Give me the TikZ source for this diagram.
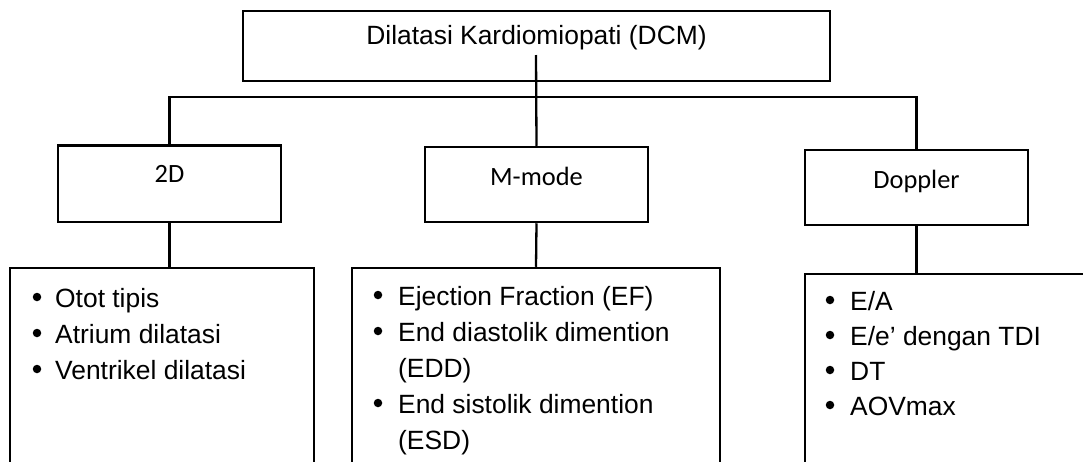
\documentclass[tikz,border=0pt]{standalone}
\usepackage{fontspec}
\setmainfont{Liberation Sans}
\newfontfamily\calfont{Carlito}
\begin{document}
\begin{tikzpicture}[x=1pt,y=-1pt,
  box/.style={draw=black,line width=2.5pt,rectangle,inner sep=0pt,fill=none},
  conn/.style={draw=black,line width=2.3pt},
  title/.style={anchor=base,inner sep=0pt,font=\fontsize{26.4}{36}\selectfont},
  head/.style={anchor=base,inner sep=0pt,font=\calfont\fontsize{26.4}{36}\selectfont},
  item/.style={anchor=base west,inner sep=0pt,font=\fontsize{26.4}{36}\selectfont},
  dot/.style={circle,fill=black,inner sep=0pt,minimum size=8.5pt}]
\useasboundingbox (0,0) rectangle (1083,461);
\clip (0,0) rectangle (1083,461);
% boxes
\node[box,minimum width=587pt,minimum height=70pt] (top) at (536.5,46) {};
\node[box,minimum width=223pt,minimum height=76.5pt] (twod) at (169.5,183.75) {};
\node[box,minimum width=223pt,minimum height=75pt] (mmode) at (536.5,184.5) {};
\node[box,minimum width=223pt,minimum height=75pt] (dop) at (916.5,187.5) {};
\node[box,minimum width=304pt,minimum height=212pt] (lst1) at (162,374) {};
\node[box,minimum width=368pt,minimum height=212pt] (lst2) at (536,374) {};
\node[box,minimum width=295pt,minimum height=206pt] (lst3) at (952.5,377) {};
% texts
\node[title] (ttop) at (536.5,44) {Dilatasi Kardiomiopati (DCM)};
\node[head] (t2d) at (169.5,182) {2D};
\node[head] (tmm) at (536.5,185) {M-mode};
\node[head] (tdop) at (916.5,188) {Doppler};
% list 1
\node[dot] (b11) at (37,297) {};
\node[item] (i11) at (55,307) {Otot tipis};
\node[dot] (b12) at (37,333) {};
\node[item] (i12) at (55,343) {Atrium dilatasi};
\node[dot] (b13) at (37,369) {};
\node[item] (i13) at (55,379) {Ventrikel dilatasi};
% list 2
\node[dot] (b21) at (378,295) {};
\node[item] (i21) at (398,305) {Ejection Fraction (EF)};
\node[dot] (b22) at (378,331) {};
\node[item] (i22) at (398,341) {End diastolik dimention};
\node[item] (i22b) at (398,377) {(EDD)};
\node[dot] (b23) at (378,403) {};
\node[item] (i23) at (398,413) {End sistolik dimention};
\node[item] (i23b) at (398,449) {(ESD)};
% list 3
\node[dot] (b31) at (830,300) {};
\node[item] (i31) at (850,310) {E/A};
\node[dot] (b32) at (830,335) {};
\node[item] (i32) at (850,345) {E/e’ dengan TDI};
\node[dot] (b33) at (830,370) {};
\node[item] (i33) at (850,380) {DT};
\node[dot] (b34) at (830,405) {};
\node[item] (i34) at (850,415) {AOVmax};
% connectors
\coordinate (cstart) at (536,55);
\coordinate (bus) at (536,97);
\draw[conn] (cstart) -- (mmode.north);
\draw[conn] (twod.north) |- (bus) -| (dop.north);
\draw[conn] (twod.south) -- (twod.south |- lst1.north);
\draw[conn] (mmode.south) -- (lst2.north);
\draw[conn] (dop.south) -- (dop.south |- lst3.north);
\end{tikzpicture}
\end{document}
